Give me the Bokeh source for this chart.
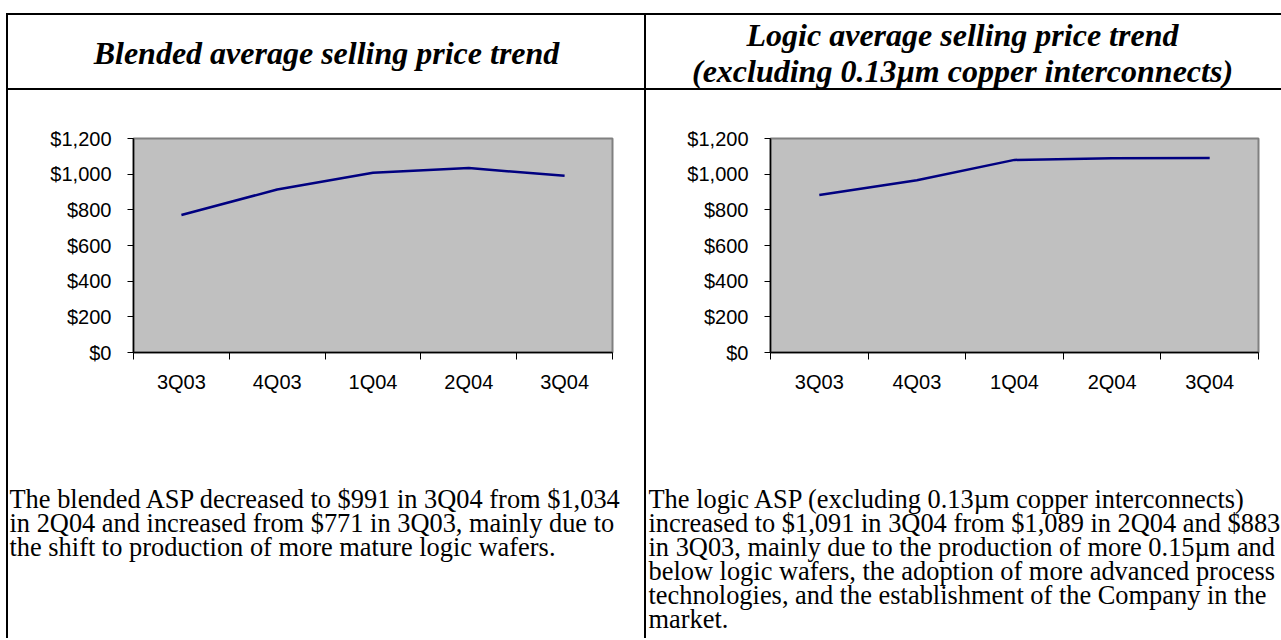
from bokeh.plotting import figure
from bokeh.layouts import row, column
from bokeh.models import (Range1d, FactorRange, LinearAxis, FixedTicker,
                          NumeralTickFormatter, CustomJSTickFormatter, Div, Spacer)
from bokeh.core.properties import value
from bokeh.embed import file_html
from bokeh.resources import INLINE

# ---------------- data ----------------
quarters = ["3Q03", "4Q03", "1Q04", "2Q04", "3Q04"]
blended_asp = [771, 914, 1008, 1034, 991]
logic_asp = [883, 966, 1080, 1089, 1091]
y_ticks = [0, 200, 400, 600, 800, 1000, 1200]

title_left = ["Blended average selling price trend"]
title_right = ["Logic average selling price trend",
               "(excluding 0.13\u00b5m copper interconnects)"]
text_left = ["The blended ASP decreased to $991 in 3Q04 from $1,034",
             "in 2Q04 and increased from $771 in 3Q03, mainly due to",
             "the shift to production of more mature logic wafers."]
text_right = ["The logic ASP (excluding 0.13\u00b5m copper interconnects)",
              "increased to $1,091 in 3Q04 from $1,089 in 2Q04 and $883",
              "in 3Q03, mainly due to the production of more 0.15\u00b5m and",
              "below logic wafers, the adoption of more advanced process",
              "technologies, and the establishment of the Company in the",
              "market."]

SERIF = "Liberation Serif"
SANS = "Liberation Sans"

LEFT_PAD, TOP_PAD = 6, 13
LEFT_W, RIGHT_W = 636, 635
TITLE_H = 73
CHART_H, TEXT_H = 330, 218
PARA_TOP, PARA_STEP = 78, 24       # first paragraph line centre (in text cell), line step


def bar(w, h):
    return Div(text="", width=w, height=h, margin=0,
               styles={"background-color": "black"})


def pad(h):
    return Spacer(width=LEFT_PAD, height=h, margin=0)


def text_fig(width, height, xs, ys, texts, size, style, align):
    p = figure(width=width, height=height, x_range=Range1d(0, width),
               y_range=Range1d(height, 0), output_backend="svg",
               toolbar_location=None, x_axis_location=None,
               y_axis_location=None, min_border=0, outline_line_color=None)
    p.grid.visible = False
    p.text(x=xs, y=ys, text=texts, text_font=value(SERIF),
           text_font_size=size, text_font_style=style,
           text_align=align, text_baseline="middle", text_color="black")
    return p


def chart(values, width, left, right):
    p = figure(width=width, height=CHART_H,
               x_range=FactorRange(factors=quarters, range_padding=0,
                                   factor_padding=0),
               y_range=Range1d(0, 1200), output_backend="svg",
               toolbar_location=None, x_axis_location=None,
               y_axis_location=None, min_border_left=left,
               min_border_right=right, min_border_top=48,
               min_border_bottom=CHART_H - 48 - 214)
    p.grid.visible = False
    p.background_fill_color = "#C0C0C0"
    p.border_fill_color = "white"
    p.outline_line_color = "#808080"
    p.outline_line_width = 2

    # category slots: labels at slot centres, tick marks at slot boundaries
    centers = [i + 0.5 for i in range(len(quarters))]
    xa = LinearAxis(ticker=FixedTicker(ticks=centers,
                                       minor_ticks=list(range(len(quarters) + 1))),
                    formatter=CustomJSTickFormatter(args=dict(labels=quarters),
                                                    code="return labels[Math.floor(tick)];"),
                    major_tick_out=0, major_tick_in=0,
                    minor_tick_out=7, minor_tick_in=0,
                    minor_tick_line_color="black",
                    axis_line_color="black", axis_line_width=1.5,
                    major_label_standoff=11,
                    major_label_text_font=SANS,
                    major_label_text_font_size="20px",
                    major_label_text_color="black")
    p.add_layout(xa, "below")

    ya = LinearAxis(ticker=FixedTicker(ticks=y_ticks),
                    formatter=NumeralTickFormatter(format="$0,0"),
                    major_tick_out=6, major_tick_in=0,
                    minor_tick_out=0, minor_tick_in=0,
                    major_tick_line_color="black",
                    axis_line_color="black", axis_line_width=1.5,
                    major_label_standoff=16,
                    major_label_text_font=SANS,
                    major_label_text_font_size="20px",
                    major_label_text_color="black")
    p.add_layout(ya, "left")

    p.line(x=quarters, y=values, line_color="#000080", line_width=2.5)
    return p


def paragraph(width, lines, x0):
    ys = [PARA_TOP + i * PARA_STEP for i in range(len(lines))]
    return text_fig(width, TEXT_H, [x0] * len(lines), ys, lines, "26.4px",
                    "normal", "left")


t_left = text_fig(LEFT_W, TITLE_H, [LEFT_W / 2], [37], title_left, "32px",
                  "bold italic", "center")
t_right = text_fig(RIGHT_W, TITLE_H, [316, 316], [19, 55], title_right, "32px",
                   "bold italic", "center")

c_left = chart(blended_asp, LEFT_W, 125, 32)
c_right = chart(logic_asp, RIGHT_W, 124, 23)

p_left = paragraph(LEFT_W, text_left, 1)
p_right = paragraph(RIGHT_W, text_right, 2)

TOTAL_W = LEFT_PAD + 2 + LEFT_W + 2 + RIGHT_W
LINE_W = TOTAL_W - LEFT_PAD

page = column(
    Spacer(width=TOTAL_W, height=TOP_PAD, margin=0),
    row(pad(2), bar(LINE_W, 2), spacing=0),
    row(pad(TITLE_H), bar(2, TITLE_H), t_left, bar(2, TITLE_H), t_right,
        spacing=0),
    row(pad(2), bar(LINE_W, 2), spacing=0),
    row(pad(CHART_H), bar(2, CHART_H), c_left, bar(2, CHART_H), c_right,
        spacing=0),
    row(pad(TEXT_H), bar(2, TEXT_H), p_left, bar(2, TEXT_H), p_right,
        spacing=0),
    spacing=0,
)

open("out.html", "w").write(file_html(page, INLINE))
